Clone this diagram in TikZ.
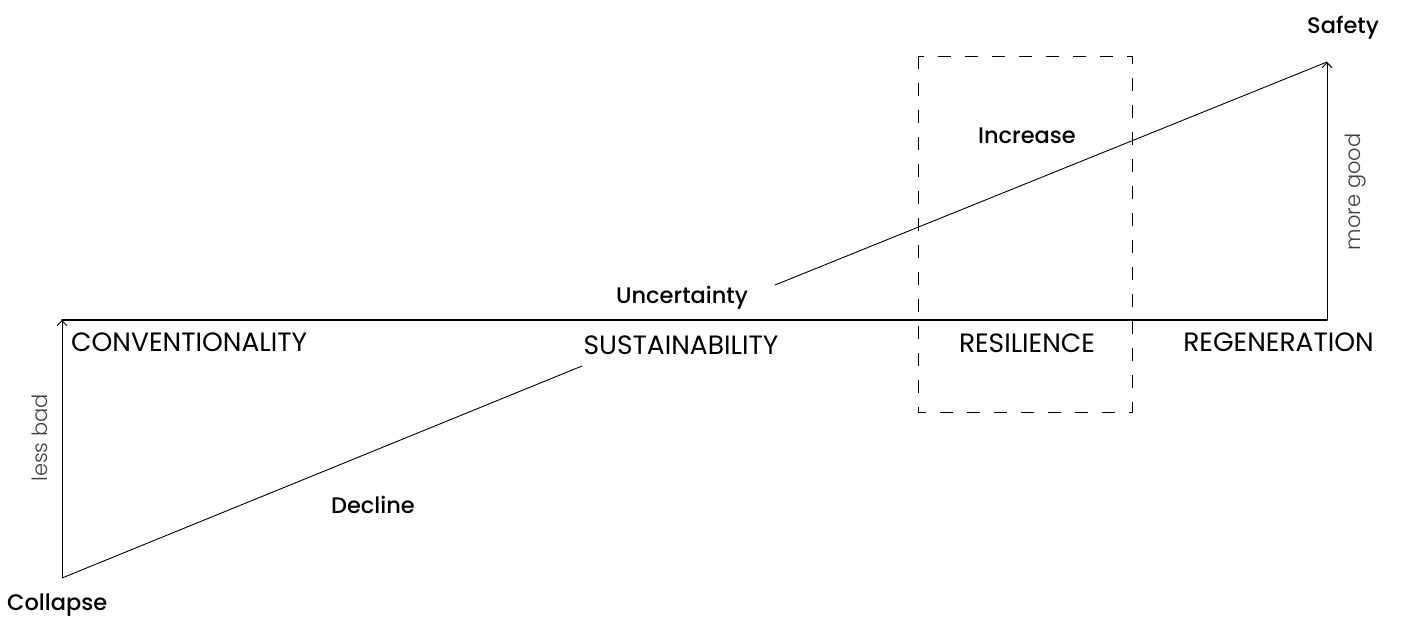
\documentclass[tikz,border=0pt]{standalone}
\usepackage{fontspec}
\setmainfont{Poppins}
\newfontfamily\medfont{Poppins Medium}
\newfontfamily\thinfont{Poppins Light}
\usepackage{tikz}
\usetikzlibrary{arrows.meta}
\tikzset{
  axis/.style={line width=1.4pt},
  trend/.style={line width=0.9pt},
  lbl/.style={font=\medfont\fontsize{22.5}{24}\selectfont, inner sep=0pt},
  stage/.style={font=\fontsize{26.5}{28}\selectfont, inner sep=0pt},
  side/.style={font=\thinfont\fontsize{21}{24}\selectfont\color{black!75}, inner sep=0pt, rotate=90},
}
\begin{document}
\begin{tikzpicture}[line cap=round,line join=round,>={Straight Barb[length=5pt,width=10pt]},x=1pt,y=-1pt]
  \useasboundingbox (0,0) rectangle (1402,623);
  % points of the curve
  \coordinate (collapse) at (62,578);
  \coordinate (conv) at (62,320);
  \coordinate (decl) at (582,366);
  \coordinate (unc) at (775,285);
  \coordinate (safety) at (1327,62);
  \coordinate (regen) at (1327,320);
  % axes and trends
  \draw [axis] (conv) -- (regen);
  \draw [trend,->] (collapse) -- (conv);
  \draw [trend,->] (regen) -- (safety);
  \draw [trend] (collapse) -- (decl);
  \draw [trend] (unc) -- (safety);
  % resilience window
  \draw [trend,line cap=butt,dash pattern=on 13pt off 14pt] (918,56) rectangle (1132,412);
  \begin{scope}
    \node [lbl] (tSafety) at (1343,28) {Safety};
    \node [side] (tMore) at (1356,192) {more good};
    \node [lbl] (tInc) at (1027,136) {Increase};
    \node [lbl] (tUnc) at (682,298) {Uncertainty};
    \node [stage,anchor=west] (tConv) at (71,342) {CONVENTIONALITY};
    \node [stage] (tSust) at (681,345) {SUSTAINABILITY};
    \node [stage] (tRes) at (1027,343) {RESILIENCE};
    \node [stage,anchor=east] (tRegen) at (1374,342) {REGENERATION};
    \node [side] (tLess) at (40,438) {less bad};
    \node [lbl] (tDec) at (373,505) {Decline};
    \node [lbl,anchor=west] (tCol) at (7,605) {Collapse};
  \end{scope}
\end{tikzpicture}
\end{document}
